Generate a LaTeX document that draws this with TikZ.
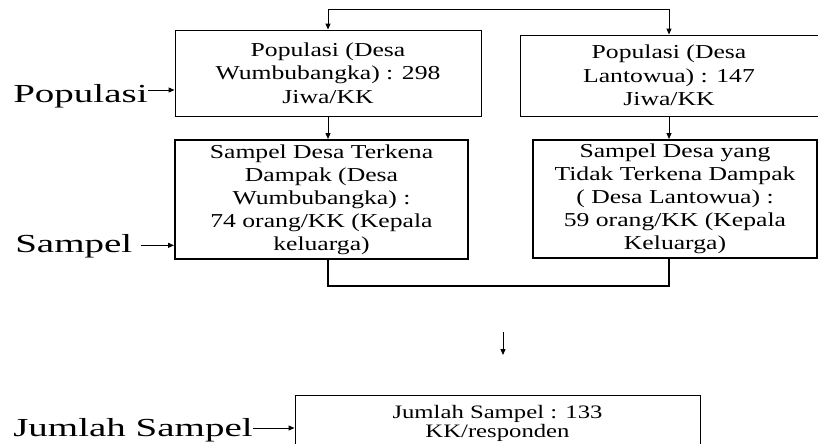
\documentclass[tikz,border=0pt]{standalone}
\usepackage{fontspec}
\setmainfont{Liberation Serif}[FakeStretch=1.3]
\newfontfamily\lblfont{Liberation Serif}[FakeStretch=1.5]
\usetikzlibrary{arrows.meta}
\begin{document}
\begin{tikzpicture}[
        x=0.75pt, y=-0.75pt,
        popbox/.style={rectangle, draw, line width=0.75pt, align=center, inner sep=0pt, font=\fontsize{14.8}{17.8}\selectfont},
        sampbox/.style={rectangle, draw, line width=1.5pt, align=center, inner sep=0pt, font=\fontsize{14.8}{17.2}\selectfont},
        totbox/.style={rectangle, draw, line width=0.75pt, align=center, inner xsep=0pt, inner ysep=7pt, font=\fontsize{14.25}{14.25}\selectfont},
        lbl/.style={inner sep=0pt, anchor=base west, font=\lblfont\fontsize{19.5}{19.5}\selectfont},
        arr/.style={-{Triangle[length=4.5pt,width=3.75pt]}, line width=0.75pt},
        link/.style={line width=1.5pt}
    ]
        \useasboundingbox (0,0) rectangle (818,443);

        % Populasi
        \node[popbox, minimum width=229.5pt, minimum height=64.5pt] (popw) at (328,73) {Populasi (Desa\\Wumbubangka) : 298\\Jiwa/KK};
        \node[popbox, minimum width=223.5pt, minimum height=60.75pt] (popl) at (669,75.5) {Populasi (Desa\\Lantowua) : 147\\Jiwa/KK};

        % Sampel
        \node[sampbox, minimum width=219.75pt, minimum height=89.25pt] (sampw) at (321.5,199.5) {Sampel Desa Terkena\\Dampak (Desa\\Wumbubangka) :\\74 orang/KK (Kepala\\keluarga)};
        \node[sampbox, minimum width=213pt, minimum height=88.5pt] (sampl) at (675,199) {Sampel Desa yang\\Tidak Terkena Dampak\\( Desa Lantowua) :\\59 orang/KK (Kepala\\Keluarga)};

        % Jumlah sampel
        \node[totbox, minimum width=303.75pt] (total) at (497.5,423) {Jumlah Sampel : 133\\KK/responden};

        % Labels
        \node[lbl] (lpop) at (13,102) {Populasi};
        \node[lbl] (lsamp) at (15,252) {Sampel};
        \node[lbl] (ljml) at (13,436) {Jumlah Sampel};

        % Arrows
        \coordinate (split) at ([yshift=15pt]popw.north);
        \draw[arr] (split) -- (popw.north);
        \draw[arr] (split) -| (popl.north);
        \draw[arr] (popw.south) -- (popw.south |- sampw.north);
        \draw[arr] (popl.south) -- (popl.south |- sampl.north);

        \coordinate (join) at ([yshift=-19.5pt]sampw.south -| popw.south);
        \draw[link] (sampw.south -| popw.south) -- (join) -| (sampl.south -| popl.south);

        \coordinate (m1) at (503,332);
        \coordinate (m2) at (503,355);
        \draw[arr] (m1) -- (m2);

        \draw[arr] ([yshift=9pt]lpop.base east) -- ([yshift=9pt]lpop.base east -| popw.west);
        \draw[arr] ([xshift=6pt,yshift=5pt]lsamp.base east) -- ([yshift=5pt]lsamp.base east -| sampw.west);
        \draw[arr] ([yshift=6pt]ljml.base east) -- ([yshift=6pt]ljml.base east -| total.west);
    \end{tikzpicture}
\end{document}
